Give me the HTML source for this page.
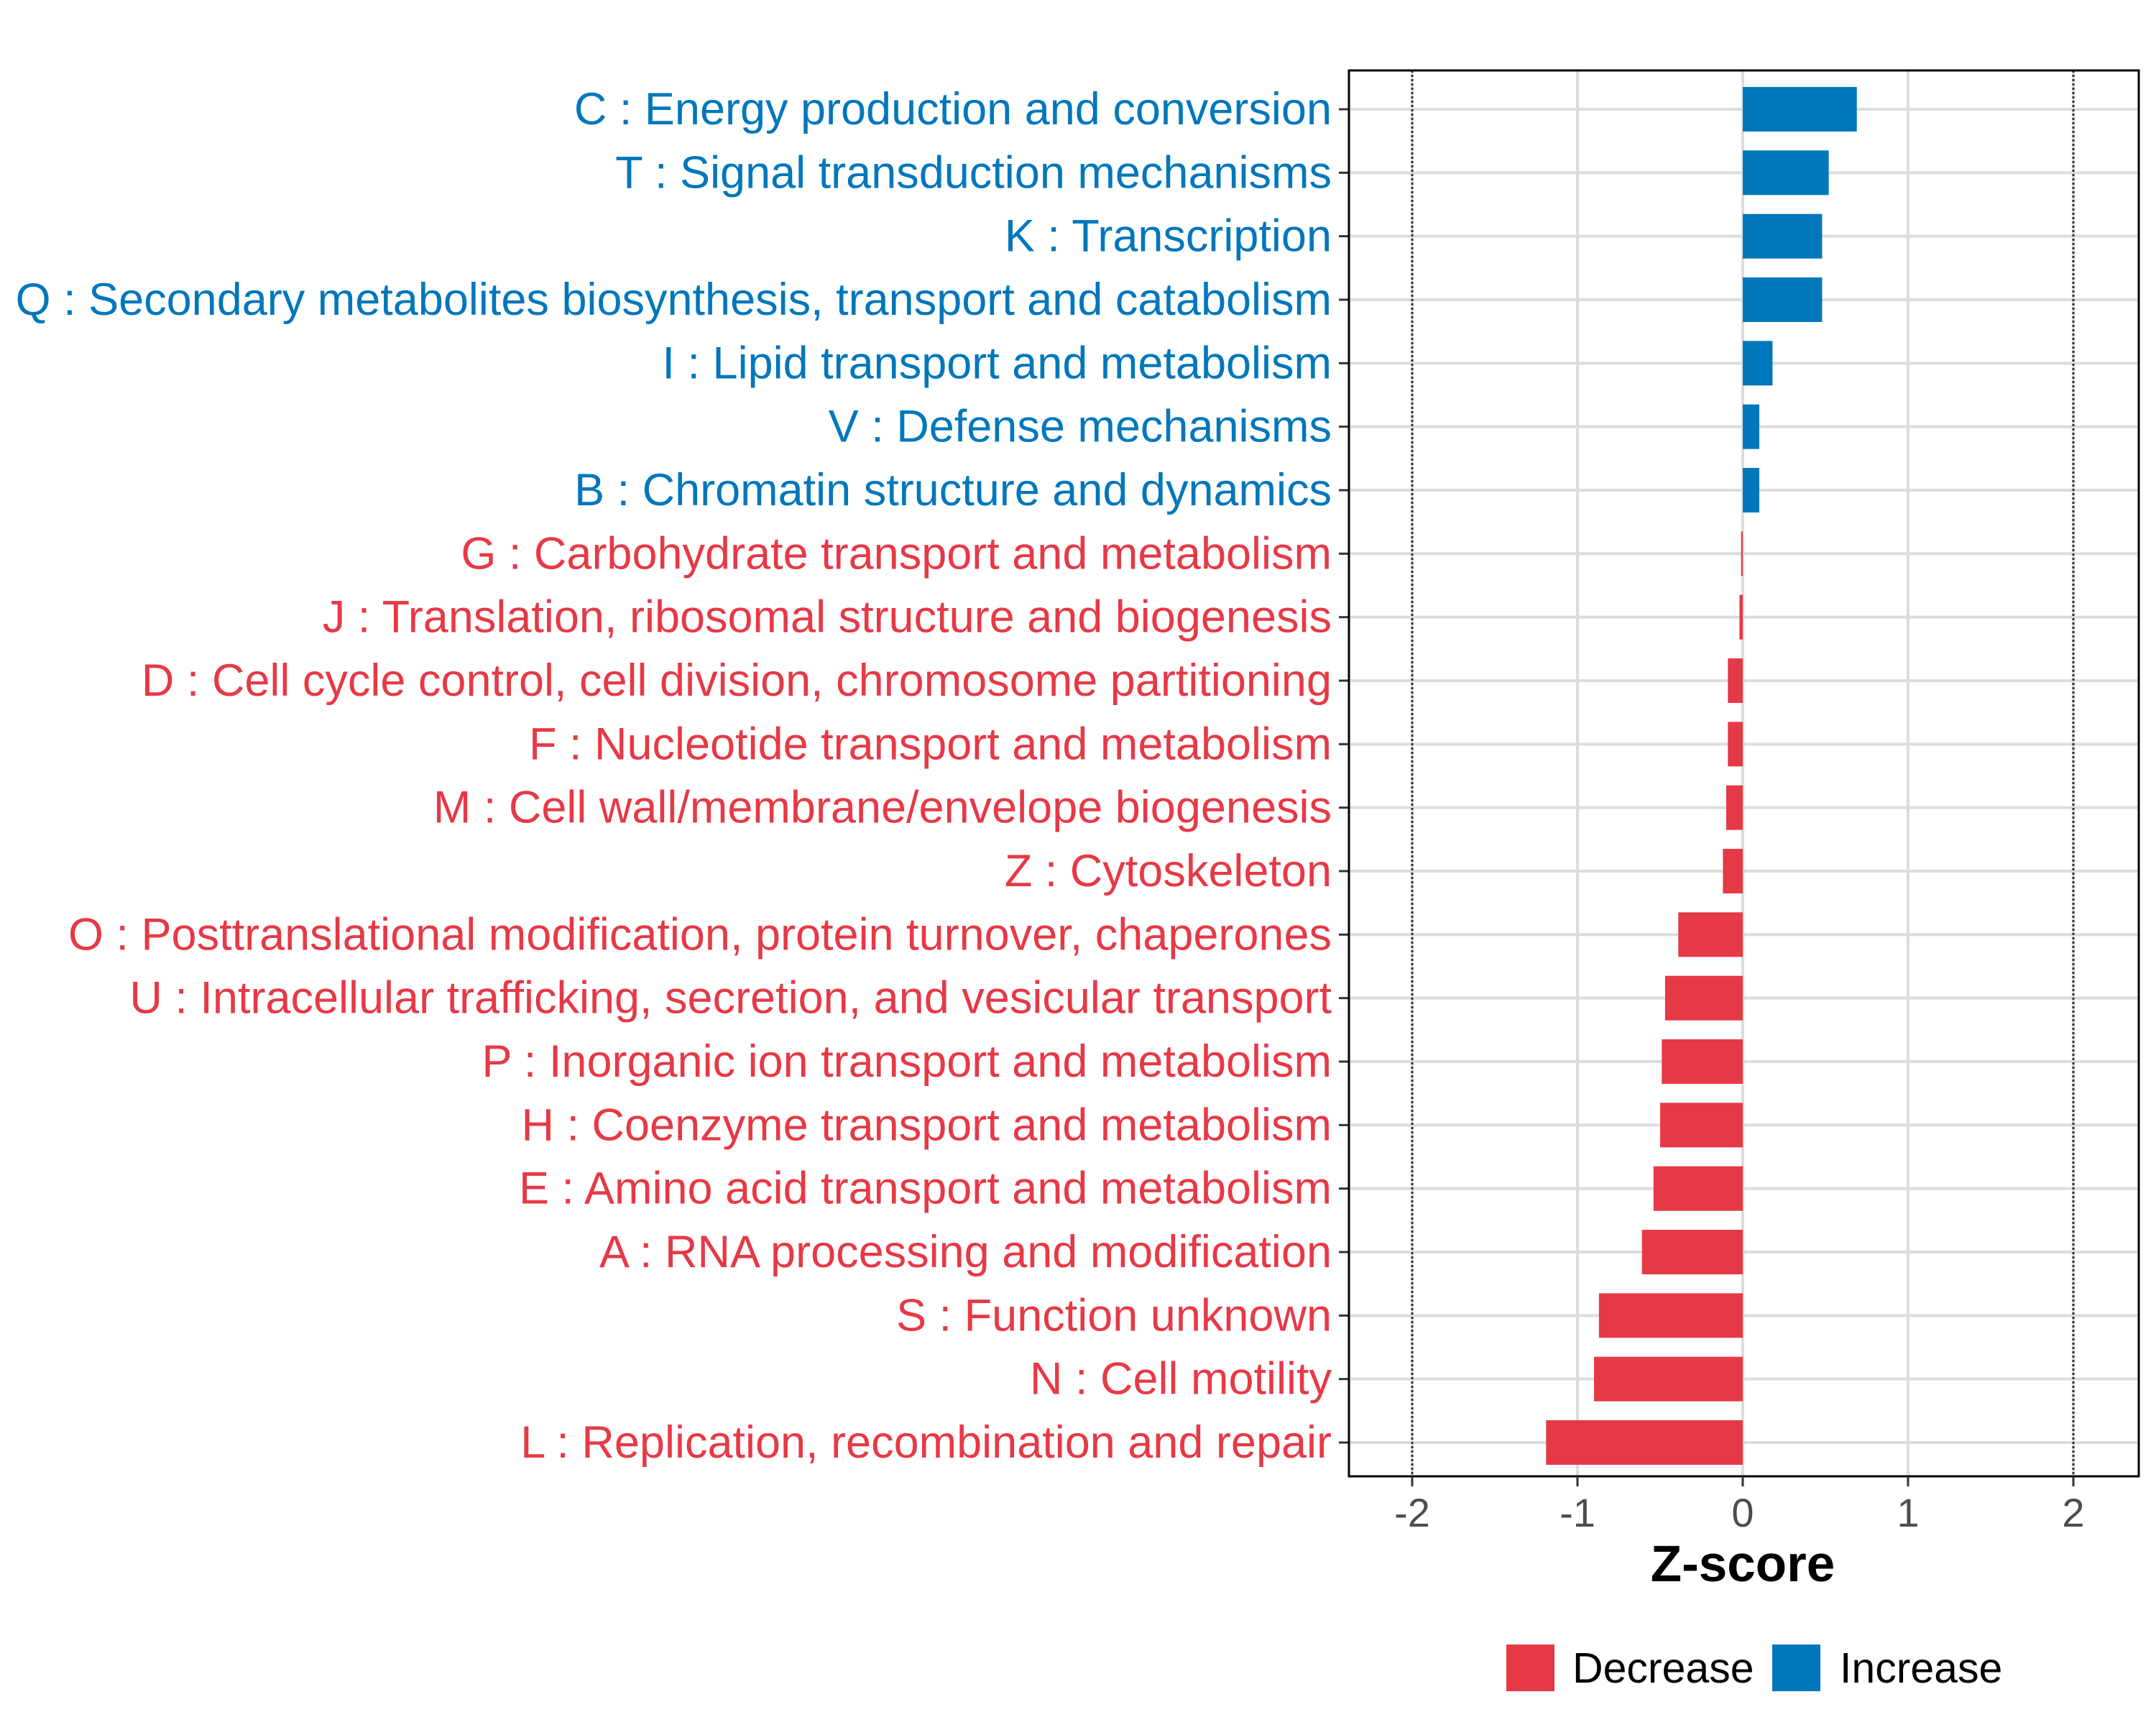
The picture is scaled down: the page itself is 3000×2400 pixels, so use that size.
<!DOCTYPE html>
<html><head><meta charset="utf-8"><style>
body{margin:0;background:#fff}
svg{display:block;font-family:"Liberation Sans",sans-serif}
</style></head><body>
<svg id="chart" width="3000" height="2400" viewBox="0 0 3000 2400" xmlns="http://www.w3.org/2000/svg"></svg>
<script>
const categories=["C : Energy production and conversion","T : Signal transduction mechanisms","K : Transcription","Q : Secondary metabolites biosynthesis, transport and catabolism","I : Lipid transport and metabolism","V : Defense mechanisms","B : Chromatin structure and dynamics","G : Carbohydrate transport and metabolism","J : Translation, ribosomal structure and biogenesis","D : Cell cycle control, cell division, chromosome partitioning","F : Nucleotide transport and metabolism","M : Cell wall/membrane/envelope biogenesis","Z : Cytoskeleton","O : Posttranslational modification, protein turnover, chaperones","U : Intracellular trafficking, secretion, and vesicular transport","P : Inorganic ion transport and metabolism","H : Coenzyme transport and metabolism","E : Amino acid transport and metabolism","A : RNA processing and modification","S : Function unknown","N : Cell motility","L : Replication, recombination and repair"];
const zscores=[0.69,0.52,0.48,0.48,0.18,0.10,0.10,-0.01,-0.02,-0.09,-0.09,-0.10,-0.12,-0.39,-0.47,-0.49,-0.50,-0.54,-0.61,-0.87,-0.90,-1.19];
const xTicks=[-2,-1,0,1,2];
const xTickLabels=["-2","-1","0","1","2"];
const legendLabels=["Decrease","Increase"];

const NS="http://www.w3.org/2000/svg";
const svg=document.getElementById('chart');
const RED="#E63946",BLUE="#0077BB";
const L=1877,R=2976,T=98,B=2054;
const x=v=>2425+v*230;
const y=i=>152+i*((2007-152)/(categories.length-1));
function el(t,a,p){const e=document.createElementNS(NS,t);for(const k in a)e.setAttribute(k,a[k]);(p||svg).appendChild(e);return e;}

xTicks.forEach((t,i)=>{
  const g=el('line',{x1:x(t),x2:x(t),y1:T,y2:B,stroke:'#dcdcdc','stroke-width':4});
  
  
});
categories.forEach((c,i)=>{
  const g=el('line',{x1:L,x2:R,y1:y(i),y2:y(i),stroke:'#dcdcdc','stroke-width':4});
  
  
});
[-2,2].forEach(t=>{
  const d=el('line',{x1:x(t),x2:x(t),y1:T,y2:B,stroke:'#333','stroke-width':3,'stroke-dasharray':'3,3'});
  
  
});
zscores.forEach((v,i)=>{
  const x0=Math.min(x(0),x(v)),w=Math.max(Math.abs(x(v)-x(0)),2);
  const r=el('rect',{x:x0,y:y(i)-31,width:w,height:62,fill:v>=0?BLUE:RED});
  
  
  const tk=el('line',{x1:L-14,x2:L,y1:y(i),y2:y(i),stroke:'#333','stroke-width':3});
  
  
  const tx=el('text',{x:L-24,y:y(i)+21,'text-anchor':'end','font-size':63,fill:v>=0?BLUE:RED});
  tx.textContent=categories[i];
  
  
});
const p=el('rect',{x:L,y:T,width:R-L,height:B-T,fill:'none',stroke:'#000','stroke-width':3});


xTicks.forEach((t,i)=>{
  const tk=el('line',{x1:x(t),x2:x(t),y1:B,y2:B+14,stroke:'#333','stroke-width':3});
  
  
  const tx=el('text',{x:x(t),y:B+70,'text-anchor':'middle','font-size':56,fill:'#4d4d4d'});
  tx.textContent=xTickLabels[i];
  
  
});
const at=el('text',{x:x(0),y:2200,'text-anchor':'middle','font-size':71,'font-weight':'bold',fill:'#000'});
at.textContent="Z-score";


[[2096,RED,2188],[2466,BLUE,2560]].forEach((d,i)=>{
  const k=el('rect',{x:d[0],y:2288,width:67,height:65,fill:d[1]});
  
  
  const t=el('text',{x:d[2],y:2341,'font-size':59,fill:'#000'});
  t.textContent=legendLabels[i];
  
  
});
</script>
</body></html>
